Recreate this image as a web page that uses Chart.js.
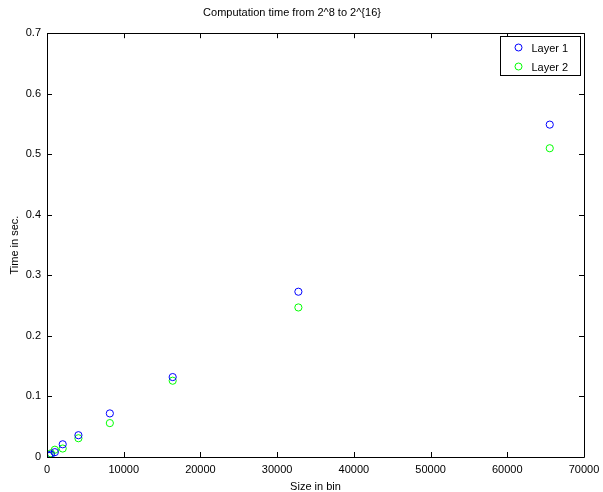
<!DOCTYPE html>
<html>
<head>
<meta charset="utf-8">
<script src="https://cdn.jsdelivr.net/npm/chart.js@4.4.1/dist/chart.umd.min.js"></script>
<style>
  html, body { margin: 0; padding: 0; background: #fff; }
  #wrap { width: 603px; height: 492px; }
</style>
</head>
<body>
<div id="wrap"><canvas id="timeChart" width="603" height="492"></canvas></div>
<script>
// sizes in bins: 2^8 .. 2^16
const sizes = [256, 512, 1024, 2048, 4096, 8192, 16384, 32768, 65536];
const layer1 = [0.002, 0.004, 0.008, 0.021, 0.036, 0.072, 0.132, 0.273, 0.549];
const layer2 = [0.002, 0.006, 0.012, 0.014, 0.031, 0.056, 0.126, 0.247, 0.510];
const xTicks = [0, 10000, 20000, 30000, 40000, 50000, 60000, 70000];
const yTicks = [0, 0.1, 0.2, 0.3, 0.4, 0.5, 0.6, 0.7];

const FONT = 'Liberation Sans, Arial, Helvetica, sans-serif';

function toPoints(ys) {
    return sizes.map((x, i) => ({ x: x, y: ys[i] }));
}

// matlab-like box with inward ticks on all four sides, plus legend
const boxPlugin = {
    id: 'boxPlugin',
    afterDraw(chart) {
        const c = chart.ctx;
        const a = chart.chartArea;
        const xs = chart.scales.x, ys = chart.scales.y;
        const tl = 5;
        c.save();
        c.strokeStyle = '#000';
        c.lineWidth = 1;
        c.beginPath();
        c.rect(Math.round(a.left) + 0.5, Math.round(a.top) + 0.5,
               Math.round(a.right - a.left), Math.round(a.bottom - a.top));
        xTicks.forEach(v => {
            const px = Math.round(xs.getPixelForValue(v)) + 0.5;
            c.moveTo(px, a.bottom); c.lineTo(px, a.bottom - tl);
            c.moveTo(px, a.top); c.lineTo(px, a.top + tl);
        });
        yTicks.forEach(v => {
            const py = Math.round(ys.getPixelForValue(v)) + 0.5;
            c.moveTo(a.left, py); c.lineTo(a.left + tl, py);
            c.moveTo(a.right, py); c.lineTo(a.right - tl, py);
        });
        c.stroke();

        // legend
        const lx = Math.round(a.right) - 83.5, ly = Math.round(a.top) + 3.5;
        c.fillStyle = '#fff';
        c.fillRect(lx, ly, 80, 39);
        c.strokeRect(lx, ly, 80, 39);
        c.font = '11px ' + FONT;
        c.textBaseline = 'middle';
        chart.data.datasets.forEach((ds, i) => {
            const cy = ly + 11 + i * 19;
            c.beginPath();
            c.strokeStyle = ds.borderColor;
            c.arc(lx + 18, cy, 3.5, 0, Math.PI * 2);
            c.stroke();
            c.fillStyle = '#000';
            c.fillText(ds.label, lx + 31, cy + 1);
        });
        c.restore();
    }
};

const ctx = document.getElementById('timeChart').getContext('2d');
const chart = new Chart(ctx, {
    type: 'scatter',
    data: {
        datasets: [{
            label: 'Layer 1',
            data: toPoints(layer1),
            borderColor: 'rgb(0, 0, 255)',
            backgroundColor: 'rgba(0, 0, 0, 0)',
            pointRadius: 3.6,
            pointBorderWidth: 1
        }, {
            label: 'Layer 2',
            data: toPoints(layer2),
            borderColor: 'rgb(0, 255, 0)',
            backgroundColor: 'rgba(0, 0, 0, 0)',
            pointRadius: 3.6,
            pointBorderWidth: 1
        }]
    },
    options: {
        responsive: false,
        animation: false,
        layout: { padding: { left: 0, right: 19, top: 0, bottom: 0 } },
        plugins: {
            legend: { display: false },
            tooltip: { enabled: false },
            title: {
                display: true,
                text: 'Computation time from 2^8 to 2^{16}',
                color: '#000',
                font: { family: FONT, size: 11, weight: 'normal', lineHeight: 1.2 },
                padding: { top: 6, bottom: 14 }
            }
        },
        scales: {
            x: {
                type: 'linear',
                min: 0,
                max: 70000,
                grid: { display: false, drawTicks: false },
                border: { display: false },
                ticks: {
                    stepSize: 10000,
                    color: '#000',
                    padding: 6,
                    maxRotation: 0,
                    font: { family: FONT, size: 11 },
                    callback: v => String(v)
                },
                title: {
                    display: true,
                    text: 'Size in bin',
                    color: '#000',
                    font: { family: FONT, size: 11, lineHeight: 1 },
                    padding: { top: 0, bottom: 0 }
                },
                afterFit(scale) {
                    scale.height = 35;
                    scale.paddingLeft = 0;
                    scale.paddingRight = 0;
                }
            },
            y: {
                min: 0,
                max: 0.7,
                grid: { display: false, drawTicks: false },
                border: { display: false },
                ticks: {
                    stepSize: 0.1,
                    color: '#000',
                    padding: 6,
                    font: { family: FONT, size: 11 },
                    callback: v => String(Math.round(v * 10) / 10)
                },
                title: {
                    display: true,
                    text: 'Time in sec.',
                    color: '#000',
                    font: { family: FONT, size: 11, lineHeight: 1 },
                    padding: { top: 9, bottom: 0 }
                },
                afterFit(scale) { scale.width = 47; }
            }
        }
    },
    plugins: [boxPlugin]
});
</script>
</body>
</html>
